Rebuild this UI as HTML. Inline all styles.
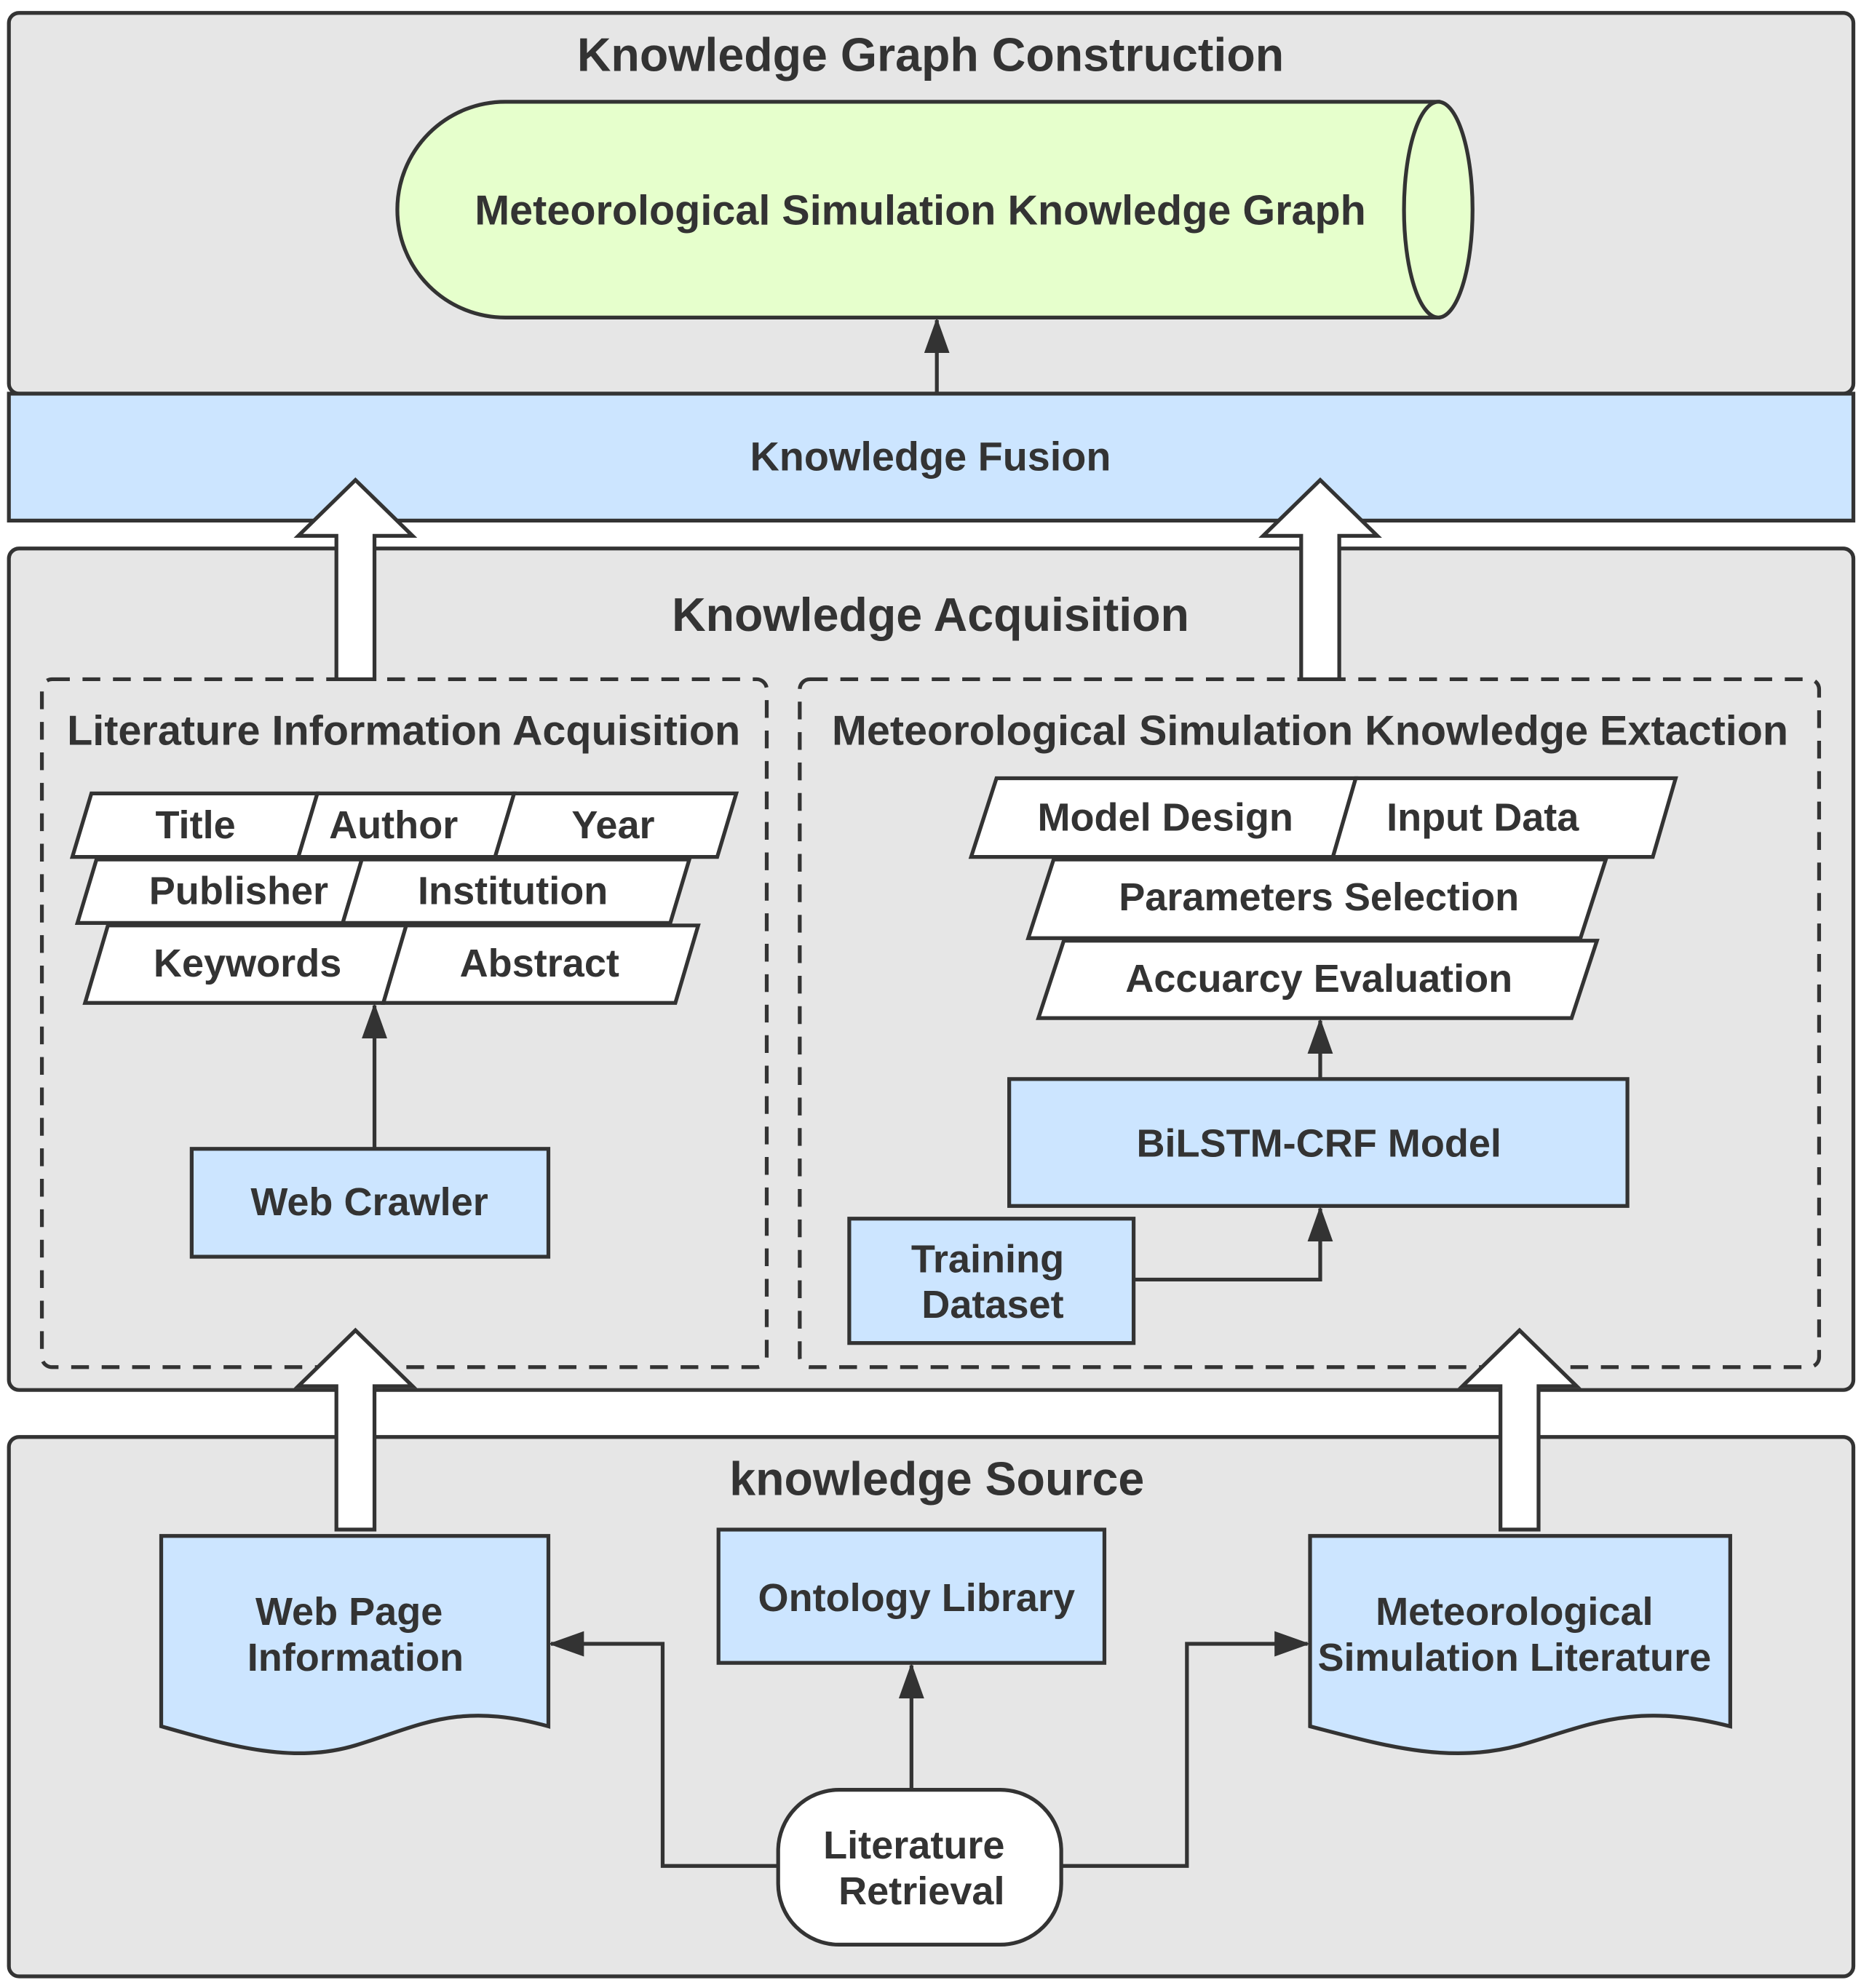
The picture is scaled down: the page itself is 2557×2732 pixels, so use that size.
<!DOCTYPE html>
<html><head><meta charset="utf-8"><style>
html,body{margin:0;padding:0;background:#fff}
svg{display:block}
text{font-family:"Liberation Sans","Noto Sans CJK SC",sans-serif;font-weight:bold;fill:#333;text-anchor:middle;dominant-baseline:middle}
</style></head><body>
<svg width="2557" height="2732" viewBox="0 0 1466 1566" xmlns="http://www.w3.org/2000/svg">
<defs>
<marker id="ah" markerWidth="28" markerHeight="20" refX="26" refY="10" orient="auto" markerUnits="userSpaceOnUse" viewBox="0 0 28 20">
<path d="M0,0 L28,10 L0,20 z" fill="#333"/></marker>
</defs>
<g stroke="#333" stroke-width="3">
<rect x="7" y="10" width="1453" height="300" rx="8" fill="#e6e6e6"/>
<path d="M398,80 L1133,80 L1133,250 L398,250 A85,85 0 0 1 398,80 z" fill="#e6ffcc"/>
<ellipse cx="1133" cy="165" rx="27" ry="85" fill="#e6ffcc"/>
<rect x="7" y="310" width="1453" height="100" fill="#cce5ff"/>
<rect x="7" y="432" width="1453" height="663" rx="8" fill="#e6e6e6"/>
<rect x="33" y="535" width="571" height="542" rx="8" fill="none" stroke-dasharray="14,10"/>
<rect x="630" y="535" width="803" height="542" rx="8" fill="none" stroke-dasharray="14,10"/>
<rect x="7" y="1132" width="1453" height="425" rx="8" fill="#e6e6e6"/>
<g fill="#fff">
<path d="M72,625 L250,625 L235,675 L57,675 z"/>
<path d="M250,625 L405,625 L390,675 L235,675 z"/>
<path d="M405,625 L580,625 L565,675 L390,675 z"/>
<path d="M76,677 L285,677 L270,727 L61,727 z"/>
<path d="M285,677 L543,677 L528,727 L270,727 z"/>
<path d="M85,729 L320,729 L302,790 L67,790 z"/>
<path d="M320,729 L550,729 L532,790 L302,790 z"/>
<path d="M785,613 L1068,613 L1050,675 L765,675 z"/>
<path d="M1068,613 L1320,613 L1302,675 L1050,675 z"/>
<path d="M830,677 L1265,677 L1245,739 L810,739 z"/>
<path d="M838,741 L1258,741 L1238,802 L818,802 z"/>
</g>
<g fill="#cce5ff">
<rect x="151" y="905" width="281" height="85"/>
<rect x="795" y="850" width="487" height="100"/>
<rect x="669" y="960" width="224" height="98"/>
<rect x="566" y="1205" width="304" height="105"/>
<path d="M127,1210 L432,1210 L432,1360 C360,1340 330,1360 280,1375 C230,1390 180,1375 127,1360 z"/>
<path d="M1032,1210 L1363,1210 L1363,1360 C1285,1340 1250,1360 1197,1375 C1140,1390 1090,1375 1032,1360 z"/>
</g>
<rect x="613" y="1410" width="223" height="122" rx="48" fill="#fff"/>
<g fill="#fff">
<path d="M265,535 L265,422 L235,422 L280,378 L325,422 L295,422 L295,535 z"/>
<path d="M1025,535 L1025,422 L995,422 L1040,378 L1085,422 L1055,422 L1055,535 z"/>
<path d="M265,1205 L265,1092 L235,1092 L280,1048 L325,1092 L295,1092 L295,1205 z"/>
<path d="M1182,1205 L1182,1092 L1152,1092 L1197,1048 L1242,1092 L1212,1092 L1212,1205 z"/>
</g>
<g fill="none" marker-end="url(#ah)">
<path d="M738,310 L738,252"/>
<path d="M295,905 L295,792"/>
<path d="M1040,850 L1040,804"/>
<path d="M893,1008 L1040,1008 L1040,952"/>
<path d="M718,1410 L718,1312"/>
<path d="M613,1470 L522,1470 L522,1295 L434,1295"/>
<path d="M836,1470 L935,1470 L935,1295 L1030,1295"/>
</g>
</g>
<text x="733" y="46" font-size="37">Knowledge Graph Construction</text>
<text x="725" y="168" font-size="33">Meteorological Simulation Knowledge Graph</text>
<text x="733" y="362" font-size="32">Knowledge Fusion</text>
<text x="733" y="487" font-size="37">Knowledge Acquisition</text>
<text x="318" y="578" font-size="33">Literature Information Acquisition</text>
<text x="1032" y="578" font-size="33">Meteorological Simulation Knowledge Extaction</text>
<g font-size="31">
<text x="154" y="652">Title</text>
<text x="310" y="652">Author</text>
<text x="483" y="652">Year</text>
<text x="188" y="704">Publisher</text>
<text x="404" y="704">Institution</text>
<text x="195" y="761">Keywords</text>
<text x="425" y="761">Abstract</text>
<text x="918" y="646">Model Design</text>
<text x="1168" y="646">Input Data</text>
<text x="1039" y="709">Parameters Selection</text>
<text x="1039" y="773">Accuarcy Evaluation</text>
<text x="291" y="949">Web Crawler</text>
<text x="1039" y="903">BiLSTM-CRF Model</text>
<text x="778" y="994">Training</text>
<text x="782" y="1030">Dataset</text>
<text x="275" y="1272">Web Page</text>
<text x="280" y="1308">Information</text>
<text x="722" y="1261">Ontology Library</text>
<text x="1193" y="1272">Meteorological</text>
<text x="1193" y="1308">Simulation Literature</text>
<text x="720" y="1456">Literature</text>
<text x="726" y="1492">Retrieval</text>
</g>
<text x="738" y="1168" font-size="37">knowledge Source</text>
</svg>
</body></html>
